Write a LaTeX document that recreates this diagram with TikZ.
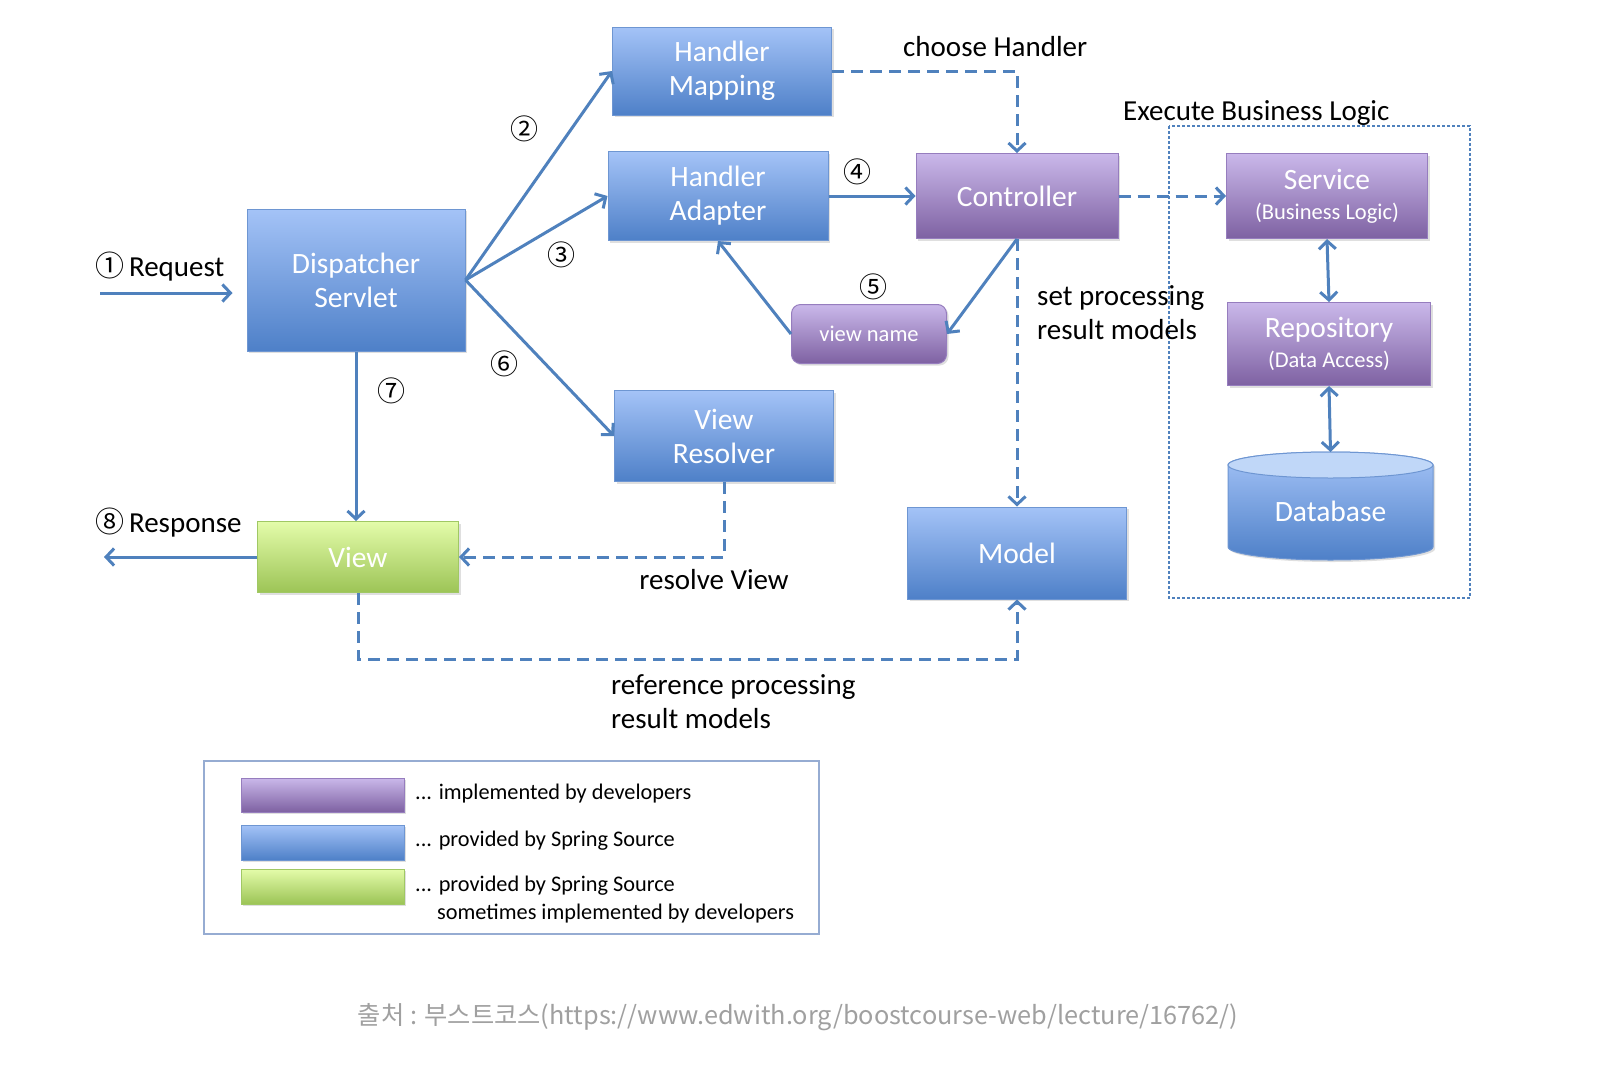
\documentclass[tikz,border=0pt]{standalone}
\usepackage{fontspec}
\setmainfont{Carlito}
\newfontfamily\cjkfont{Noto Sans CJK KR}
\usetikzlibrary{arrows.meta,shadows}

\definecolor{flowblue}{RGB}{79,129,189}
\definecolor{sprtop}{RGB}{164,195,247}
\definecolor{sprbot}{RGB}{78,128,200}
\definecolor{sprline}{RGB}{110,150,210}
\definecolor{devtop}{RGB}{202,184,234}
\definecolor{devbot}{RGB}{126,97,162}
\definecolor{devline}{RGB}{150,125,190}
\definecolor{viewtop}{RGB}{228,252,170}
\definecolor{viewbot}{RGB}{156,196,86}
\definecolor{viewline}{RGB}{160,200,100}
\definecolor{dbtop}{RGB}{192,215,248}
\definecolor{legline}{RGB}{150,172,210}
\definecolor{footgray}{RGB}{160,160,160}

\begin{document}
\begin{tikzpicture}[x=1pt,y=-1pt,>={Straight Barb[length=8pt,width=17pt]},
  springbox/.style={draw=sprline,line width=1pt,top color=sprtop,bottom color=sprbot,
    text=white,align=center,inner sep=0pt,font=\fontsize{29.5}{34}\selectfont,
    drop shadow={shadow xshift=2pt,shadow yshift=-2pt,opacity=0.25}},
  devbox/.style={springbox,draw=devline,top color=devtop,bottom color=devbot},
  viewbox/.style={springbox,draw=viewline,top color=viewtop,bottom color=viewbot},
  flow/.style={->,flowblue,line width=3pt},
  flowdash/.style={flow,dash pattern=on 12pt off 7pt},
  lbl/.style={font=\fontsize{29}{34}\selectfont,align=left,inner sep=0pt},
  cnum/.style={font=\cjkfont\fontsize{28}{30}\selectfont,inner sep=0pt},
  legtxt/.style={font=\fontsize{22.3}{28}\selectfont,align=left,inner sep=0pt,anchor=west}]
  \fill[white] (0,0) rectangle (1612,1066);
  \useasboundingbox (0,0) rectangle (1612,1066);
  % ---------------- business logic area
  \draw[flowblue,line width=1.2pt,dash pattern=on 3pt off 2pt] (1169,126) rectangle (1470,598);
  % ---------------- boxes
  \node[springbox,minimum width=218pt,minimum height=142pt] (disp) at (356,280) {Dispatcher\\Servlet};
  \node[springbox,minimum width=219pt,minimum height=88pt] (hmap) at (722,71) {Handler\\Mapping};
  \node[springbox,minimum width=220pt,minimum height=89pt] (hadp) at (718,196) {Handler\\Adapter};
  \node[devbox,minimum width=202pt,minimum height=85pt] (ctrl) at (1017,196) {Controller};
  \node[devbox,rounded corners=9pt,minimum width=155pt,minimum height=59pt,
    font=\fontsize{22.5}{26}\selectfont] (vname) at (869,334) {view name};
  \node[springbox,minimum width=219pt,minimum height=91pt] (vres) at (724,436) {View\\Resolver};
  \node[viewbox,minimum width=201pt,minimum height=71pt] (view) at (358,557) {View};
  \node[springbox,minimum width=219pt,minimum height=92pt] (model) at (1017,553) {Model};
  \node[devbox,minimum width=201pt,minimum height=85pt] (svc) at (1327,196)
    {Service\\[-4pt]{\fontsize{22.5}{26}\selectfont(Business Logic)}};
  \node[devbox,minimum width=203pt,minimum height=83pt] (repo) at (1329,344)
    {Repository\\[-4pt]{\fontsize{22.5}{26}\selectfont(Data Access)}};
  % ---------------- database cylinder
  \shade[top color=sprtop,bottom color=sprbot,draw=sprline,line width=1pt,
    drop shadow={shadow xshift=2pt,shadow yshift=-2pt,opacity=0.25}]
    (1228,465) -- (1228,547) arc[start angle=180,end angle=360,x radius=102.5pt,y radius=13pt]
    -- (1433,465) arc[start angle=0,end angle=180,x radius=102.5pt,y radius=13pt] -- cycle;
  \filldraw[fill=dbtop,draw=sprline,line width=1pt] (1330.5,465) ellipse[x radius=102.5pt,y radius=13pt];
  \node[text=white,font=\fontsize{29.5}{34}\selectfont] (db) at (1330.5,511) {Database};
  \coordinate (dbtop) at (1330.5,452);
  % ---------------- connectors
  \coordinate (reqS) at (100,293);
  \coordinate (respE) at (104,557);
  \draw[flow,shorten >=14pt] (reqS) -- (reqS -| disp.west);
  \draw[flow] (view.west) -- (respE);
  \draw[flow] (disp.east) -- (hmap.west);
  \draw[flow] (disp.east) -- (hadp.west);
  \draw[flow] (disp.east) -- (vres.west);
  \draw[flow] (disp.south) -- (disp.south |- view.north);
  \draw[flow] (hadp.east) -- (ctrl.west);
  \draw[flowdash] (hmap.east) -| (ctrl.north);
  \draw[flow] (ctrl.south) -- (vname.east);
  \draw[flow] (vname.west) -- (hadp.south);
  \draw[flowdash] (ctrl.south) -- (model.north);
  \draw[flowdash] (ctrl.east) -- (svc.west);
  \draw[flow,<->] (svc.south) -- (repo.north);
  \draw[flow,<->] (repo.south) -- (dbtop);
  \draw[flowdash] (vres.south) |- (view.east);
  \draw[flowdash] (view.south) -- ++(0,66) -| (model.south);
  % ---------------- labels
  \node[lbl,anchor=west] (reqlbl) at (95,267) {{\cjkfont ①}\,Request};
  \node[lbl,anchor=west] (resplbl) at (95,523) {{\cjkfont ⑧}\,Response};
  \node[cnum] (n2) at (524,129) {②};
  \node[cnum] (n3) at (561,255) {③};
  \node[cnum] (n4) at (857,172) {④};
  \node[cnum] (n5) at (873,287) {⑤};
  \node[cnum] (n6) at (504,364) {⑥};
  \node[cnum] (n7) at (391,391) {⑦};
  \node[lbl,anchor=west] (choose) at (903,47) {choose Handler};
  \node[lbl,anchor=west] (exec) at (1123,113) {Execute Business Logic};
  \node[lbl,anchor=west] (setres) at (1037,313) {set processing\\result models};
  \node[lbl] (resolve) at (714,580) {resolve View};
  \node[lbl,anchor=west] (refres) at (611,702) {reference processing\\result models};
  % ---------------- legend
  \draw[legline,line width=1.5pt] (204,761) rectangle (819,934);
  \node[devbox,minimum width=163pt,minimum height=34pt] (legP) at (322.5,795) {};
  \node[springbox,minimum width=163pt,minimum height=35pt] (legB) at (322.5,842.5) {};
  \node[viewbox,minimum width=163pt,minimum height=35pt] (legG) at (322.5,886.5) {};
  \node[legtxt] (legPt) at (415,794) {... implemented by developers};
  \node[legtxt] (legBt) at (415,841) {... provided by Spring Source};
  \node[legtxt] (legGt) at (415,900) {... provided by Spring Source\\\hphantom{...\ }sometimes implemented by developers};
  % ---------------- source
  \node[font=\cjkfont\fontsize{25.3}{30}\selectfont,text=footgray] (src) at (798,1017)
    {출처 : 부스트코스(https://www.edwith.org/boostcourse-web/lecture/16762/)};
\end{tikzpicture}
\end{document}
